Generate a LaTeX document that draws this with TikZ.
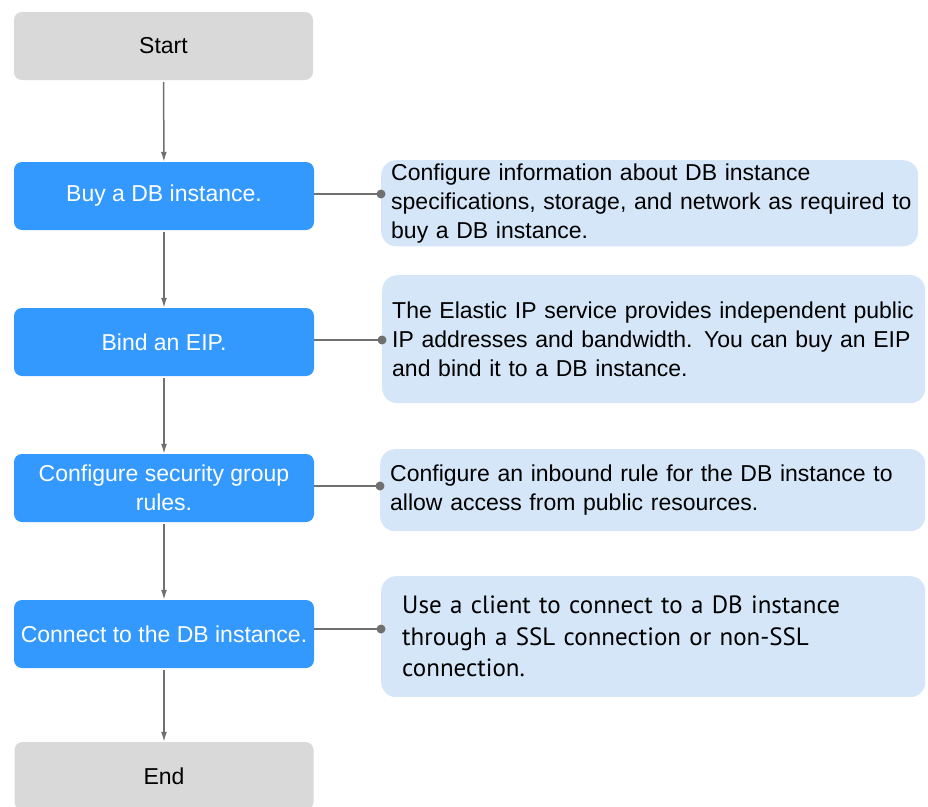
\documentclass[tikz,border=0pt]{standalone}
\usepackage{fontspec}
\setmainfont{Liberation Sans}
\newfontfamily\notefont{PT Sans}
\usetikzlibrary{arrows.meta}
\tikzset{>={Latex[length=10pt,width=6pt]}}
\definecolor{stepblue}{RGB}{51,153,255}
\definecolor{noteblue}{RGB}{212,230,248}
\definecolor{termgray}{RGB}{217,217,217}
\definecolor{linegray}{RGB}{112,112,112}

\begin{document}
\begin{tikzpicture}[x=1pt,y=-1pt,
    term/.style={fill=termgray, rounded corners=8pt, minimum width=299pt, minimum height=68pt,
      font=\fontsize{23}{29}\selectfont},
    stepbox/.style={fill=stepblue, text=white, rounded corners=8pt, minimum width=300pt,
      minimum height=68pt, inner xsep=2pt, align=center, font=\fontsize{23}{29}\selectfont},
    note/.style={fill=noteblue, rounded corners=15pt, anchor=north west, align=left,
      inner xsep=10pt, font=\fontsize{23}{29}\selectfont},
    link/.style={linegray, line width=1.5pt}
  ]
    \useasboundingbox (0,0) rectangle (928,806);

    % main flow
    \node[term] (start) at (163.5,46) {Start};
    \node[stepbox] (buy) at (164,196) {Buy a DB instance.};
    \node[stepbox] (bind) at (164,342) {Bind an EIP.};
    \node[stepbox] (secgroup) at (164,488) {Configure security group\\rules.};
    \node[stepbox] (connect) at (164,634) {Connect to the DB instance.};
    \node[term] (end) at (164,776) {End};

    \draw[link,->,shorten <=2pt] (start) -- (buy);
    \draw[link,->,shorten <=2pt] (buy) -- (bind);
    \draw[link,->,shorten <=2pt] (bind) -- (secgroup);
    \draw[link,->,shorten <=2pt] (secgroup) -- (connect);
    \draw[link,->,shorten <=2pt] (connect) -- (end);

    % notes
    \node[note, text width=517pt, minimum height=85pt] (buynote) at (381,160)
      {Configure information about DB instance\\\mbox{specifications, storage, and network as required to}\\buy a DB instance.};
    \node[note, text width=523pt, minimum height=128pt] (bindnote) at (382,275)
      {The Elastic IP service provides independent public\\IP addresses and bandwidth. You can buy an EIP\\and bind it to a DB instance.};
    \node[note, text width=525pt, minimum height=82pt] (secnote) at (380,449)
      {Configure an inbound rule for the DB instance to\\allow access from public resources.};
    \node[note, inner xsep=21pt, text width=502pt, minimum height=121pt,
      font=\notefont\fontsize{25}{31.5}\selectfont] (connnote) at (381,576)
      {Use a client to connect to a DB instance\\through a SSL connection or non-SSL\\connection.};

    % links to notes
    \coordinate (p1) at ([yshift=2pt]buy -| buynote.west);
    \coordinate (p2) at ([yshift=2pt]bind -| bindnote.west);
    \coordinate (p3) at ([yshift=2pt]secgroup -| secnote.west);
    \coordinate (p4) at ([yshift=5pt]connect -| connnote.west);
    \draw[link] (buy.east |- p1) -- (p1);
    \draw[link] (bind.east |- p2) -- (p2);
    \draw[link] (secgroup.east |- p3) -- (p3);
    \draw[link] (connect.east |- p4) -- (p4);
    \foreach \p in {p1,p2,p3,p4}
      \fill[linegray] (\p) circle (4.5pt);
\end{tikzpicture}
\end{document}
